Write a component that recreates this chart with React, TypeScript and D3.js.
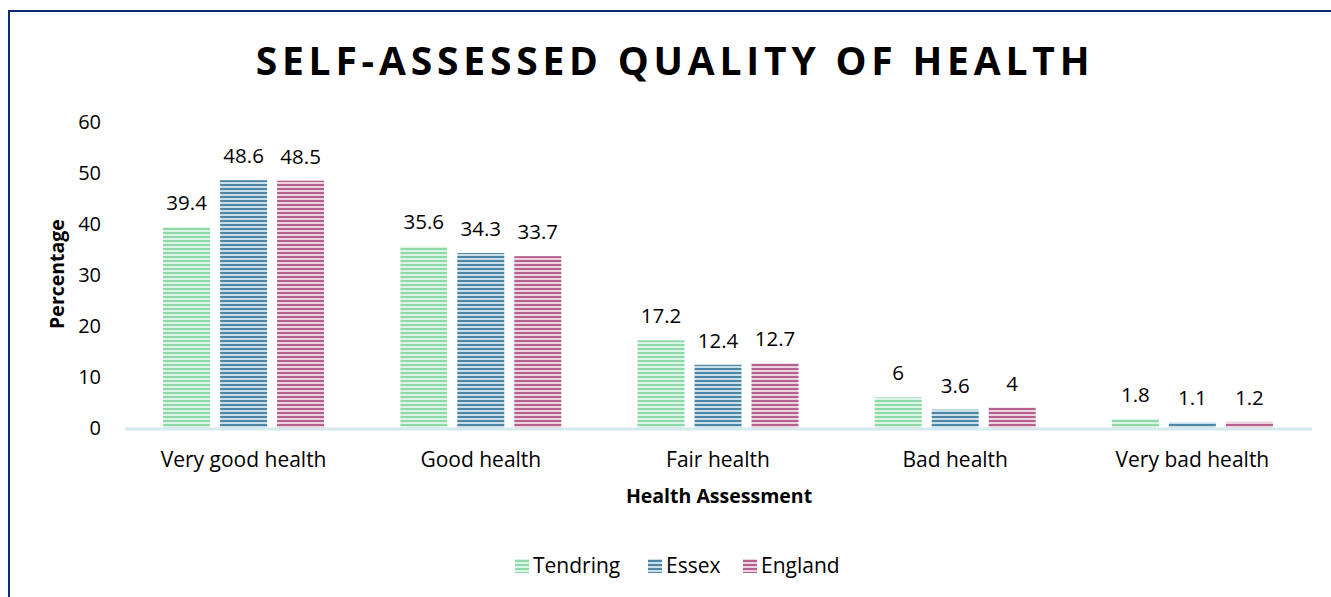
import React from "react";
import * as d3 from "d3";

const categories = ["Very good health", "Good health", "Fair health", "Bad health", "Very bad health"];
const seriesNames = ["Tendring", "Essex", "England"];
const tendring = [39.4, 35.6, 17.2, 6, 1.8];
const essex = [48.6, 34.3, 12.4, 3.6, 1.1];
const england = [48.5, 33.7, 12.7, 4, 1.2];
const yTicks = [0, 10, 20, 30, 40, 50, 60];

// dark stripe / light stripe per series
const stripeColors = [
  ["#8fd8a9", "#dcf4e4"],
  ["#4f86a3", "#c9dfe9"],
  ["#b3628d", "#efd3e1"],
];

const W = 1331;
const H = 597;
const FONT = "Open Sans, Lato, sans-serif";

const App = () => {
  const values = [tendring, essex, england];

  const x = d3.scaleBand().domain(categories).range([125, 1311]).paddingInner(0).paddingOuter(0);
  const y = d3.scaleLinear().domain([0, 60]).range([428, 122]);

  const barW = 47;
  const gap = 10;
  const groupW = barW * 3 + gap * 2;

  return (
    <svg width={W} height={H} style={{ position: "absolute", left: 0, top: 0, background: "#fff" }}>
      <defs>
        {stripeColors.map((c, i) => (
          <pattern key={i} id={`stripe${i}`} patternUnits="userSpaceOnUse" width={4} height={4}>
            <rect width={4} height={4} fill={c[1]} />
            <rect y={0} width={4} height={2} fill={c[0]} />
          </pattern>
        ))}
      </defs>

      <rect x={9} y={11} width={W + 10} height={H + 10} fill="none" stroke="#0b2a7a" strokeWidth={2} />

      <text
        x={675}
        y={75}
        textAnchor="middle"
        fontFamily={FONT}
        fontWeight="bold"
        fontSize={39}
        letterSpacing={4.8}
        fill="#000"
      >
        SELF-ASSESSED QUALITY OF HEALTH
      </text>

      {yTicks.map((t) => (
        <text key={t} x={101} y={y(t)} dy="0.35em" textAnchor="end" fontFamily={FONT} fontSize={20} fill="#000">
          {t}
        </text>
      ))}

      {categories.map((cat, ci) => {
        const cx = (x(cat) ?? 0) + x.bandwidth() / 2;
        const x0 = cx - groupW / 2;
        return (
          <g key={cat}>
            {values.map((vals, si) => {
              const bx = x0 + si * (barW + gap);
              const v = vals[ci];
              return (
                <g key={si}>
                  <rect
                    x={bx}
                    y={y(v)}
                    width={barW}
                    height={y(0) - y(v)}
                    fill={`url(#stripe${si})`}
                  />
                  <text
                    x={bx + barW / 2}
                    y={y(v) - 17}
                    textAnchor="middle"
                    fontFamily={FONT}
                    fontSize={20.5}
                    fill="#000"
                  >
                    {v}
                  </text>
                </g>
              );
            })}
            <text x={cx} y={467} textAnchor="middle" fontFamily={FONT} fontSize={21} fill="#000">
              {cat}
            </text>
          </g>
        );
      })}

      <line x1={125} x2={1312} y1={y(0) + 1} y2={y(0) + 1} stroke="#d5e9ee" strokeWidth={3} />

      <text
        transform={`translate(64,${274}) rotate(-90)`}
        textAnchor="middle"
        fontFamily={FONT}
        fontWeight="bold"
        fontSize={19.5}
        fill="#000"
      >
        Percentage
      </text>

      <text x={719} y={503} textAnchor="middle" fontFamily={FONT} fontWeight="bold" fontSize={19.5} fill="#000">
        Health Assessment
      </text>

      {seriesNames.map((name, i) => {
        const lx = [515, 648, 743][i];
        return (
          <g key={name}>
            <rect x={lx} y={559} width={14} height={14} fill={`url(#stripe${i})`} />
            <text x={lx + 18} y={566} dy="0.35em" fontFamily={FONT} fontSize={21} fill="#000">
              {name}
            </text>
          </g>
        );
      })}
    </svg>
  );
};

export default App;
